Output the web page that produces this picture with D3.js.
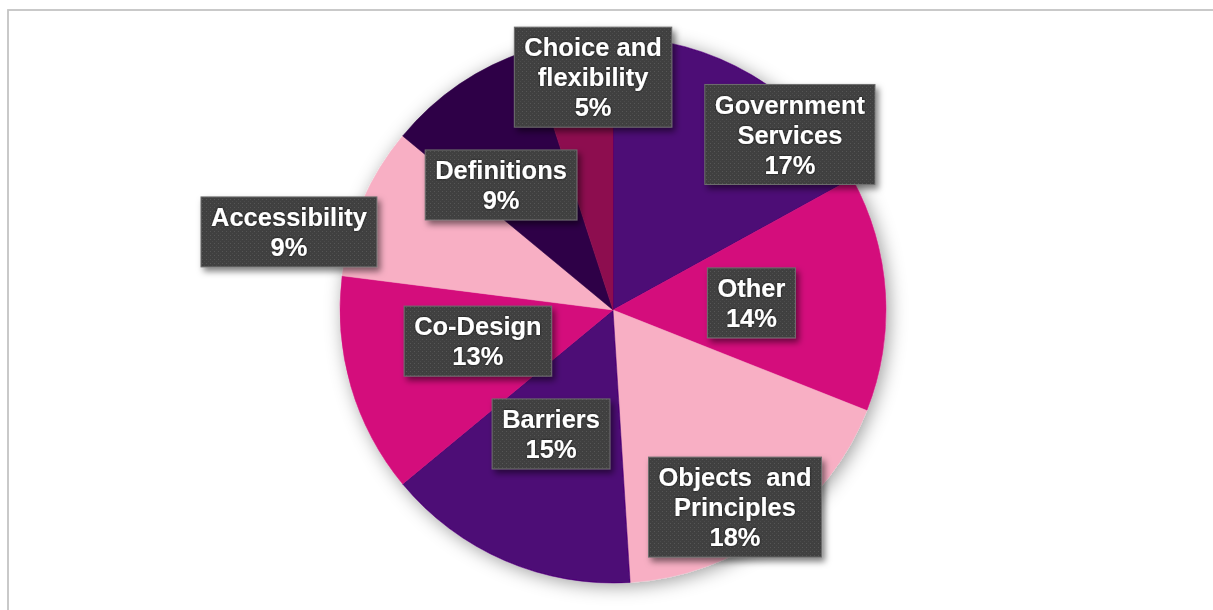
<!DOCTYPE html>
<html>
<head>
<meta charset="utf-8">
<script src="https://cdn.jsdelivr.net/npm/d3@7"></script>
<style>
  html, body { margin: 0; padding: 0; background: #fff; }
  svg { display: block; }
  .lbl text { font-family: "Liberation Sans", Arial, sans-serif; font-weight: bold; fill: #fff; }
</style>
</head>
<body>
<svg id="chart" width="1213" height="610"></svg>
<script>
// Share of comments by theme (percent), clockwise from 12 o'clock
const categories = ["Government Services", "Other", "Objects and Principles", "Barriers",
                    "Co-Design", "Accessibility", "Definitions", "Choice and flexibility"];
const values = [17, 14, 18, 15, 13, 9, 9, 5];
// How each label wraps inside its callout box
const labelLines = [["Government", "Services"], ["Other"], ["Objects  and", "Principles"], ["Barriers"],
                    ["Co-Design"], ["Accessibility"], ["Definitions"], ["Choice and", "flexibility"]];
const sliceColors = ["#4e0776", "#d40c7c", "#f8afc4", "#4e0776", "#d40c7c", "#f8afc4", "#2f0047", "#8d0b4f"];
// Callout centres, as fractions of the pie radius from its centre
const labelAnchor = [[0.648, -0.643], [0.507, -0.026], [0.447, 0.722], [-0.227, 0.454],
                     [-0.495, 0.114], [-1.187, -0.286], [-0.410, -0.458], [-0.073, -0.853]];

const svg = d3.select("#chart");
const W = 1213, H = 610;
const cx = 613, cy = 310, R = 273;

const defs = svg.append("defs");
const pieShadow = defs.append("filter").attr("id", "pieShadow")
  .attr("x", "-20%").attr("y", "-20%").attr("width", "140%").attr("height", "140%");
pieShadow.append("feDropShadow").attr("dx", 3).attr("dy", 3).attr("stdDeviation", 9)
  .attr("flood-color", "#000").attr("flood-opacity", 0.38);

const boxShadow = defs.append("filter").attr("id", "boxShadow")
  .attr("x", "-20%").attr("y", "-20%").attr("width", "150%").attr("height", "160%");
boxShadow.append("feDropShadow").attr("dx", 3).attr("dy", 4).attr("stdDeviation", 3)
  .attr("flood-color", "#000").attr("flood-opacity", 0.5);

const textGlow = defs.append("filter").attr("id", "textGlow")
  .attr("x", "-10%").attr("y", "-30%").attr("width", "120%").attr("height", "160%");
textGlow.append("feDropShadow").attr("dx", 0).attr("dy", 0).attr("stdDeviation", 1)
  .attr("flood-color", "#000").attr("flood-opacity", 0.8);

const dots = defs.append("pattern").attr("id", "dots")
  .attr("patternUnits", "userSpaceOnUse").attr("width", 4).attr("height", 4);
dots.append("rect").attr("width", 4).attr("height", 4).attr("fill", "#404040");
dots.append("rect").attr("x", 1).attr("y", 1).attr("width", 1).attr("height", 1).attr("fill", "#575757");
dots.append("rect").attr("x", 3).attr("y", 3).attr("width", 1).attr("height", 1).attr("fill", "#4c4c4c");

// Frame of the chart area
svg.append("rect").attr("x", 8).attr("y", 10).attr("width", W + 20).attr("height", H + 20)
  .attr("fill", "none").attr("stroke", "#c4c4c4").attr("stroke-width", 1.8);

const data = categories.map((c, i) => ({ name: c, value: values[i], i }));
const pie = d3.pie().value(d => d.value).sort(null);
const arc = d3.arc().innerRadius(0).outerRadius(R);

const g = svg.append("g").attr("transform", `translate(${cx},${cy})`);
g.append("g").attr("filter", "url(#pieShadow)")
  .selectAll("path").data(pie(data)).join("path")
  .attr("d", arc)
  .attr("fill", d => sliceColors[d.data.i])
  .attr("stroke", d => sliceColors[d.data.i])
  .attr("stroke-width", 0.5);

// Callout labels
const fontSize = 25.5, lineH = 30, padX = 10, padY = 5;
const labels = g.selectAll("g.lbl").data(data).join("g").attr("class", "lbl");
labels.each(function(d) {
  const sel = d3.select(this);
  const lines = labelLines[d.i].concat([d.value + "%"]);
  const [fx, fy] = labelAnchor[d.i];
  const lx = fx * R, ly = fy * R;
  const box = sel.append("rect");
  const txt = sel.append("text").attr("text-anchor", "middle")
    .attr("font-size", fontSize).attr("filter", "url(#textGlow)")
    .style("white-space", "pre");
  const h = lines.length * lineH + 2 * padY;
  lines.forEach((s, k) => {
    txt.append("tspan").attr("x", lx)
      .attr("y", ly - h / 2 + padY + k * lineH + lineH / 2)
      .attr("dy", "0.36em").text(s);
  });
  let w = 0;
  txt.selectAll("tspan").each(function() { w = Math.max(w, this.getComputedTextLength()); });
  w += 2 * padX;
  box.attr("x", lx - w / 2).attr("y", ly - h / 2).attr("width", w).attr("height", h)
    .attr("fill", "url(#dots)").attr("stroke", "#6e6e6e").attr("stroke-width", 1)
    .attr("filter", "url(#boxShadow)");
});
</script>
</body>
</html>
